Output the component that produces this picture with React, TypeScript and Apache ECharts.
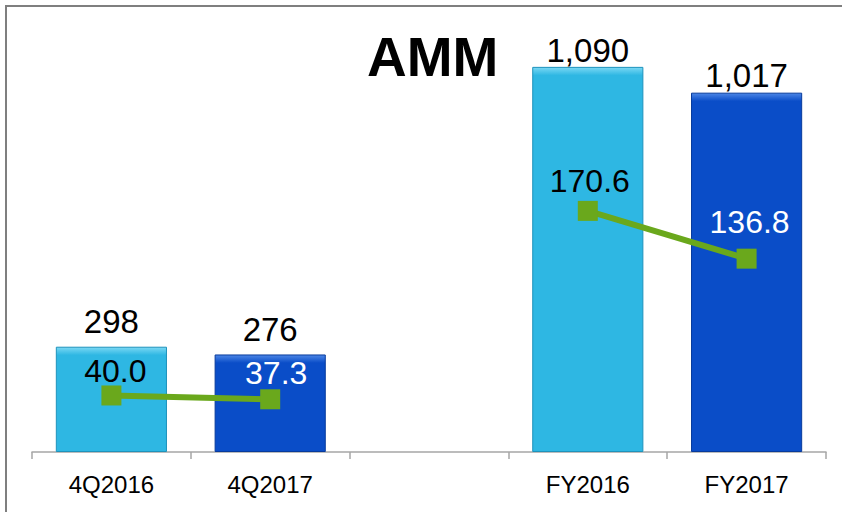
import React, { useEffect, useRef } from "react";
import * as echarts from "echarts";

const categories = ["4Q2016", "4Q2017", "", "FY2016", "FY2017"];
const revenue: (number | null)[] = [298, 276, null, 1090, 1017];
const margin: (number | null)[] = [40.0, 37.3, null, 170.6, 136.8];
const chartTitle = "AMM";

const barColors = ["#2EB7E3", "#0A4DC8", "#2EB7E3", "#2EB7E3", "#0A4DC8"];
const barTops = ["#7BD8F4", "#4C86E6", "#7BD8F4", "#7BD8F4", "#4C86E6"];
const barEdges = ["#1E93BC", "#073A9C", "#1E93BC", "#1E93BC", "#073A9C"];
const barLabelDist = [9, 8, 0, 0, 1];
const lineLabelColors = ["#000000", "#ffffff", "#000000", "#000000", "#ffffff"];
const lineLabelOffsets = [[4, -24], [6, -26], [0, 0], [2, -30], [3, -37]];

const Y1_MAX = 1200;
const Y2_MAX = 300;
const PLOT_H = 424;

export default function App() {
  const ref = useRef<HTMLDivElement>(null);
  useEffect(() => {
    if (!ref.current) return;
    const chart = echarts.init(ref.current, undefined, { renderer: "svg" });
    const font = "Arial, 'Liberation Sans', Helvetica, sans-serif";
    const barData = revenue.map((v, i) => {
      if (v == null) return "-";
      const h = (v / Y1_MAX) * PLOT_H;
      const t = Math.min(0.5, 8 / h);
      return {
        value: v,
        itemStyle: {
          color: {
            type: "linear",
            x: 0, y: 0, x2: 0, y2: 1,
            colorStops: [
              { offset: 0, color: barTops[i] },
              { offset: t, color: barColors[i] },
              { offset: 1, color: barColors[i] },
            ],
          },
          borderColor: barEdges[i],
          borderWidth: 1,
        },
        label: { distance: barLabelDist[i] },
      };
    });
    const lineData = margin.map((v, i) => {
      if (v == null) return "-";
      return {
        value: v,
        label: { color: lineLabelColors[i], offset: lineLabelOffsets[i] },
      };
    });
    chart.setOption({
      animation: false,
      backgroundColor: "#ffffff",
      textStyle: { fontFamily: font },
      title: {
        text: chartTitle,
        left: 362,
        top: 24,
        textStyle: { fontSize: 55, fontWeight: "bold", color: "#000", fontFamily: font },
      },
      graphic: [
        {
          type: "rect",
          shape: { x: 6, y: 6, width: 1000, height: 800 },
          style: { fill: "none", stroke: "#7f7f7f", lineWidth: 2 },
          z: 100,
        },
      ],
      grid: { left: 32, right: 16, top: 28, bottom: 60 },
      xAxis: {
        type: "category",
        data: categories,
        axisLine: { show: true, lineStyle: { color: "#a6a6a6", width: 1.5 } },
        axisTick: { show: true, length: 7, lineStyle: { color: "#a6a6a6", width: 1.5 } },
        axisLabel: { color: "#000", fontSize: 24, margin: 20, fontFamily: font },
        splitLine: { show: false },
      },
      yAxis: [
        { type: "value", min: 0, max: Y1_MAX, show: false, splitLine: { show: false } },
        { type: "value", min: 0, max: Y2_MAX, show: false, splitLine: { show: false } },
      ],
      series: [
        {
          type: "bar",
          data: barData,
          barCategoryGap: "30%",
          yAxisIndex: 0,
          label: {
            show: true,
            position: "top",
            color: "#000",
            fontSize: 33,
            fontFamily: font,
            formatter: (p: any) => Number(p.value).toLocaleString("en-US"),
          },
        },
        {
          type: "line",
          data: lineData,
          yAxisIndex: 1,
          connectNulls: false,
          symbol: "rect",
          symbolSize: 20,
          lineStyle: { color: "#6AA81C", width: 6 },
          itemStyle: { color: "#6AA81C" },
          label: {
            show: true,
            position: "inside",
            fontSize: 32,
            fontFamily: font,
            formatter: (p: any) => Number(p.value).toFixed(1),
          },
          z: 5,
        },
      ],
    });
    return () => chart.dispose();
  }, []);
  return (
    <div
      ref={ref}
      style={{ position: "fixed", left: 0, top: 0, width: 842, height: 512 }}
    />
  );
}
